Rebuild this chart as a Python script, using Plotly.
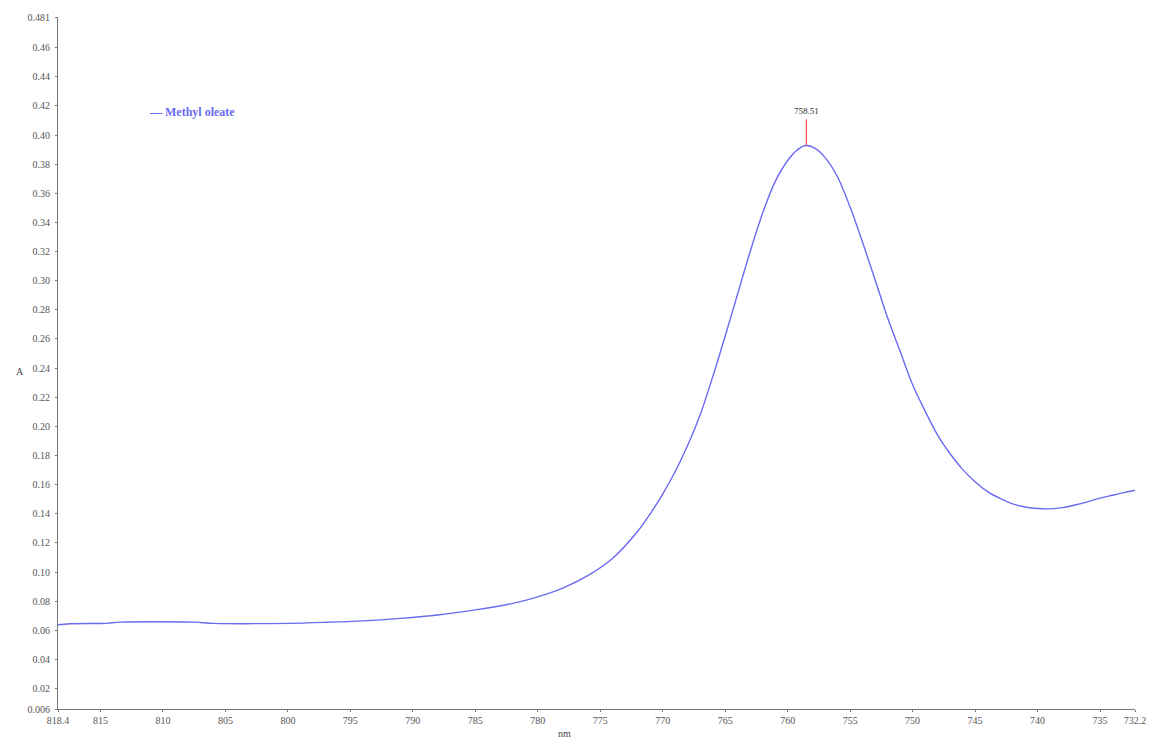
import plotly.graph_objects as go

# ---- data ----
wavelength_nm = [818.4, 817.5, 814.5, 813.5, 807.5, 806.0, 800.0, 797.0, 794.0, 791.0,
                 788.0, 785.0, 782.0, 780.0, 778.0, 776.0, 774.0, 772.0, 771.0, 770.0,
                 769.0, 768.0, 767.0, 766.0, 765.0, 764.0, 763.0, 762.0, 761.0, 760.0,
                 759.2, 758.51, 757.8, 757.0, 756.0, 755.0, 754.0, 753.0, 752.0, 751.0,
                 750.0, 749.0, 748.0, 747.0, 746.0, 745.0, 744.0, 743.0, 742.0, 741.0,
                 740.0, 739.0, 738.0, 737.0, 736.0, 735.0, 734.0, 733.0, 732.2]
absorbance = [0.0638, 0.0645, 0.0648, 0.0656, 0.0656, 0.0648, 0.0648, 0.0655, 0.0665, 0.0682,
              0.0705, 0.0740, 0.0785, 0.0830, 0.0890, 0.0975, 0.1095, 0.1280, 0.1400, 0.1535,
              0.1690, 0.1870, 0.2080, 0.2340, 0.2620, 0.2910, 0.3200, 0.3465, 0.3680, 0.3825,
              0.3900, 0.3928, 0.3908, 0.3845, 0.3712, 0.3505, 0.3262, 0.3005, 0.2745, 0.2515,
              0.2285, 0.2105, 0.1940, 0.1812, 0.1705, 0.1620, 0.1552, 0.1505, 0.1468, 0.1447,
              0.1436, 0.1434, 0.1442, 0.1460, 0.1482, 0.1507, 0.1527, 0.1547, 0.1562]
series_name = "Methyl oleate"
peak_x = 758.51
peak_y = 0.3928

x_tickvals = [818.4, 815, 810, 805, 800, 795, 790, 785, 780, 775, 770, 765, 760, 755,
              750, 745, 740, 735, 732.2]
x_ticktext = ["818.4", "815", "810", "805", "800", "795", "790", "785", "780", "775",
              "770", "765", "760", "755", "750", "745", "740", "735", "732.2"]
y_tickvals = [0.006, 0.02, 0.04, 0.06, 0.08, 0.10, 0.12, 0.14, 0.16, 0.18, 0.20, 0.22,
              0.24, 0.26, 0.28, 0.30, 0.32, 0.34, 0.36, 0.38, 0.40, 0.42, 0.44, 0.46, 0.481]
y_ticktext = ["0.006", "0.02", "0.04", "0.06", "0.08", "0.10", "0.12", "0.14", "0.16", "0.18",
              "0.20", "0.22", "0.24", "0.26", "0.28", "0.30", "0.32", "0.34", "0.36", "0.38",
              "0.40", "0.42", "0.44", "0.46", "0.481"]

line_color = "#6a6af2"
tick_font = dict(family="Liberation Serif", size=10, color="#555555")

fig = go.Figure()
fig.add_trace(go.Scatter(x=wavelength_nm, y=absorbance, mode="lines", name=series_name,
                         line=dict(color=line_color, width=1.4, shape="spline", smoothing=0.8),
                         showlegend=False))

# peak marker
fig.add_shape(type="line", xref="x", yref="y", x0=peak_x, x1=peak_x,
              y0=peak_y, y1=peak_y + 0.018, line=dict(color="#f03030", width=1))
fig.add_annotation(x=peak_x, y=peak_y + 0.018, xref="x", yref="y", text=f"{peak_x:.2f}",
                   showarrow=False, yanchor="bottom", yshift=1,
                   font=dict(family="Liberation Serif", size=9, color="#333333"))

# legend-like label
fig.add_annotation(x=0.083, y=0.416, xref="paper", yref="y", xanchor="left",
                   text="— " + series_name, showarrow=False,
                   font=dict(family="Liberation Serif", size=12, color=line_color, weight="bold"))

# axis titles
fig.add_annotation(x=-0.041, y=0.238, xref="paper", yref="y", text="A", showarrow=False,
                   font=dict(family="Liberation Serif", size=10, color="#444444"))
fig.add_annotation(x=0.4705, y=-0.046, xref="paper", yref="paper", text="nm", showarrow=False,
                   yanchor="bottom",
                   font=dict(family="Liberation Serif", size=10, color="#444444"))

fig.update_xaxes(range=[818.4, 732.2], tickvals=x_tickvals, ticktext=x_ticktext,
                 showgrid=False, zeroline=False, showline=True, linecolor="#777777",
                 linewidth=1, ticks="outside", ticklen=2, tickcolor="#777777",
                 tickfont=tick_font, automargin=False)
fig.update_yaxes(range=[0.006, 0.481], tickvals=y_tickvals, ticktext=y_ticktext,
                 showgrid=False, zeroline=False, showline=True, linecolor="#777777",
                 linewidth=1, ticks="outside", ticklen=2, tickcolor="#777777",
                 tickfont=tick_font, ticklabelstandoff=3, automargin=False)

fig.update_layout(width=1151, height=741, plot_bgcolor="white", paper_bgcolor="white",
                  margin=dict(l=58, r=16, t=17, b=32))

fig.write_html("out.html", config={"displayModeBar": False},
               post_script="document.body.style.margin='0';document.body.style.overflow='hidden';")
